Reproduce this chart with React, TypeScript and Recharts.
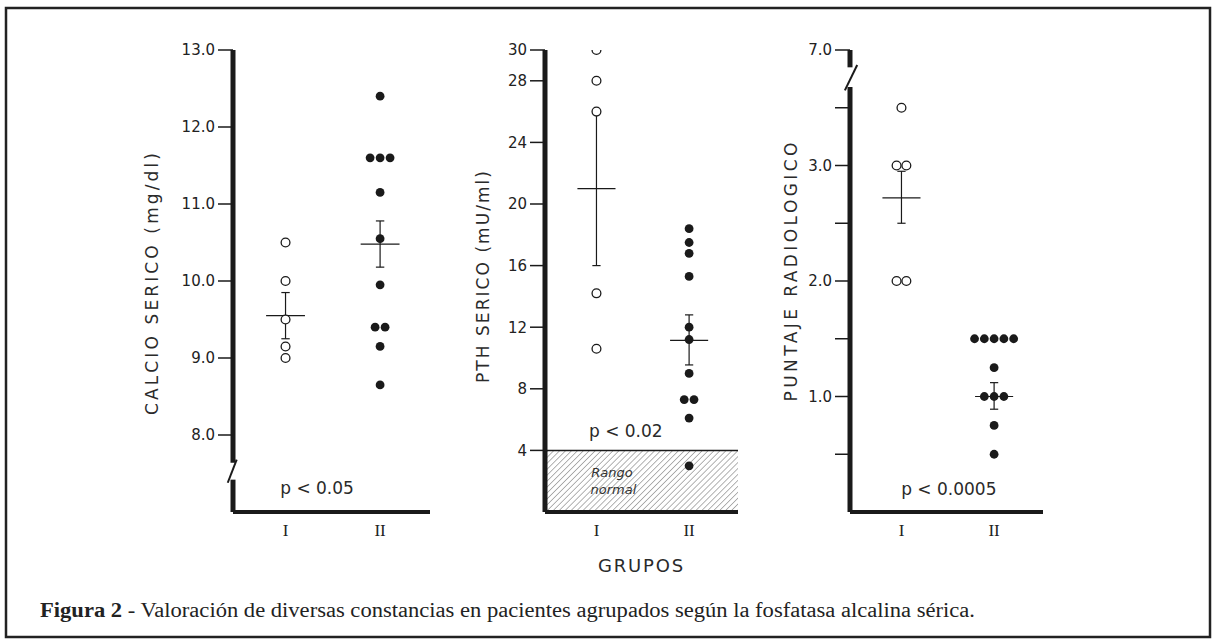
import React from "react";
import {
  ScatterChart,
  Scatter,
  XAxis,
  YAxis,
  ReferenceLine,
  ReferenceDot,
  ReferenceArea,
} from "recharts";

// groups on the x axis
const groupNames = ["I", "II"];
const groupX = [1, 2.8];
const JITTER = 0.19;

// calcio serico (mg/dl)
const calcioI = [10.5, 10.0, 9.5, 9.15, 9.0];
const calcioII = [12.4, 11.6, 11.6, 11.6, 11.15, 10.55, 9.95, 9.4, 9.4, 9.15, 8.65];
const calcioMean = [9.55, 10.48];
const calcioLow = [9.25, 10.18];
const calcioHigh = [9.85, 10.78];
const calcioTicks = [8, 9, 10, 11, 12, 13];

// PTH serico (mU/ml)
const pthI = [30, 28, 26, 14.2, 10.6];
const pthII = [18.4, 17.5, 16.8, 15.3, 12.0, 11.2, 9.0, 7.3, 7.3, 6.1, 3.0];
const pthMean = [21, 11.15];
const pthLow = [16, 9.55];
const pthHigh = [26, 12.8];
const pthTicks = [4, 8, 12, 16, 20, 24, 28, 30];

// puntaje radiologico (top tick is a broken axis marked 7.0)
const radI = [3.5, 3.0, 3.0, 2.0, 2.0];
const radII = [1.5, 1.5, 1.5, 1.5, 1.5, 1.25, 1.0, 1.0, 1.0, 0.75, 0.5];
const radMean = [2.72, 1.0];
const radLow = [2.5, 0.89];
const radHigh = [2.95, 1.12];
const radTicks = [0.5, 1, 1.5, 2, 2.5, 3, 3.5, 4];

const INK = "#1a1a1a";
const SANS = "DejaVu Sans";

// side-by-side placement for repeated values
function spread(values: number[], gx: number) {
  const counts: Record<string, number> = {};
  values.forEach((v) => (counts[v] = (counts[v] || 0) + 1));
  const seen: Record<string, number> = {};
  return values.map((v) => {
    const n = counts[v];
    const i = (seen[v] = (seen[v] ?? -1) + 1);
    return { x: gx + (i - (n - 1) / 2) * JITTER, y: v };
  });
}

const OpenDot = (p: any) => (
  <circle cx={p.cx} cy={p.cy} r={4.4} fill="#fff" stroke={INK} strokeWidth={1.3} />
);
const FullDot = (p: any) => <circle cx={p.cx} cy={p.cy} r={4.4} fill={INK} />;

function meanBars(mean: number[], low: number[], high: number[], key: string) {
  const out: any[] = [];
  groupX.forEach((gx, i) => {
    const lineProps = { stroke: INK, strokeWidth: 1.2, ifOverflow: "visible" as const };
    out.push(
      <ReferenceLine key={`${key}-m${i}`} segment={[{ x: gx - 0.37, y: mean[i] }, { x: gx + 0.37, y: mean[i] }]} {...lineProps} />,
      <ReferenceLine key={`${key}-v${i}`} segment={[{ x: gx, y: low[i] }, { x: gx, y: high[i] }]} {...lineProps} />,
      <ReferenceLine key={`${key}-l${i}`} segment={[{ x: gx - 0.08, y: low[i] }, { x: gx + 0.08, y: low[i] }]} {...lineProps} />,
      <ReferenceLine key={`${key}-h${i}`} segment={[{ x: gx - 0.08, y: high[i] }, { x: gx + 0.08, y: high[i] }]} {...lineProps} />
    );
  });
  return out;
}

function axisSegments(parts: number[][], key: string) {
  return parts.map((p, i) => (
    <ReferenceLine
      key={`${key}-ax${i}`}
      segment={[{ x: 0, y: p[0] }, { x: 0, y: p[1] }]}
      stroke={INK}
      strokeWidth={5}
      ifOverflow="visible"
    />
  ));
}

const titleLabel = (text: string, fromAxis: number, dy: number, len: number) => (props: any) => {
  const vb = props.viewBox || {};
  const cx = vb.x + vb.width - fromAxis;
  const cy = vb.y + vb.height / 2 + dy;
  return (
    <text
      x={cx}
      y={cy}
      transform={`rotate(-90 ${cx} ${cy})`}
      textAnchor="middle"
      dominantBaseline="central"
      fontFamily={SANS}
      fontSize={17}
      textLength={len}
      lengthAdjust="spacing"
      fill="#2a2a2a"
    >
      {text}
    </text>
  );
};

const W = 1216;
const H = 640;
const TOP = 50;
const BOTTOM = 512;
const YW = 100;
const XH = 70;

function Panel(props: any) {
  const { left, right, domain, ticks, fmt, title, titleFrom, titleDy, titleLen, open, full, xLabel, children } = props;
  return (
    <div style={{ position: "absolute", left: 0, top: 0 }}>
      <ScatterChart
        width={W}
        height={H}
        margin={{ top: TOP, bottom: H - BOTTOM - XH, left: left - YW, right: W - right }}
      >
        <defs>
          <pattern id="hatch" patternUnits="userSpaceOnUse" width="4.2" height="4.2" patternTransform="rotate(45)">
            <line x1="0" y1="0" x2="0" y2="4.2" stroke="#555" strokeWidth="0.9" />
          </pattern>
        </defs>
        <XAxis
          type="number"
          dataKey="x"
          domain={[0, 3.75]}
          ticks={groupX}
          interval={0}
          allowDataOverflow
          tickFormatter={(v: number) => groupNames[groupX.indexOf(v)]}
          tickLine={false}
          tickMargin={6}
          axisLine={{ stroke: INK, strokeWidth: 4 }}
          tick={{ fontFamily: "Liberation Serif", fontSize: 17, fill: "#222" }}
          height={XH}
          label={
            xLabel
              ? { value: xLabel, position: "insideBottom", offset: 10, fontFamily: SANS, fontSize: 18, letterSpacing: 1.8, fill: "#2a2a2a" }
              : undefined
          }
        />
        <YAxis
          type="number"
          dataKey="y"
          domain={domain}
          ticks={ticks}
          interval={0}
          allowDataOverflow
          tickFormatter={fmt}
          axisLine={false}
          tickSize={15}
          tickMargin={3}
          tickLine={{ stroke: INK, strokeWidth: 1.5 }}
          tick={{ fontFamily: SANS, fontSize: 15, fill: "#222" }}
          width={YW}
          label={titleLabel(title, titleFrom, titleDy, titleLen)}
        />
        {children}
        <Scatter data={open} shape={OpenDot} isAnimationActive={false} />
        <Scatter data={full} shape={FullDot} isAnimationActive={false} />
      </ScatterChart>
    </div>
  );
}

const pStyle = { fontFamily: SANS, fontSize: 17, fill: "#2a2a2a" };

export default function App() {
  return (
    <div
      style={{
        position: "absolute",
        left: 0,
        top: 0,
        width: W,
        height: H,
        background: "#fff",
        overflow: "hidden",
      }}
    >
      <Panel
        left={233}
        right={430}
        domain={[7, 13]}
        ticks={calcioTicks}
        fmt={(v: number) => v.toFixed(1)}
        title="CALCIO SERICO (mg/dl)"
        titleFrom={81}
        titleDy={3}
        titleLen={262}
        open={spread(calcioI, groupX[0])}
        full={spread(calcioII, groupX[1])}
      >
        {axisSegments([[7, 7.42], [7.64, 13]], "c")}
        <ReferenceLine segment={[{ x: -0.1, y: 7.38 }, { x: 0.07, y: 7.68 }]} stroke={INK} strokeWidth={2} ifOverflow="visible" />
        {meanBars(calcioMean, calcioLow, calcioHigh, "c")}
        <ReferenceDot x={1.6} y={7.31} r={0} ifOverflow="visible" label={{ value: "p < 0.05", position: "center", ...pStyle }} />
      </Panel>

      <Panel
        left={545}
        right={738}
        domain={[0, 30]}
        ticks={pthTicks}
        fmt={(v: number) => String(v)}
        title="PTH SERICO (mU/ml)"
        titleFrom={62}
        titleDy={-4}
        titleLen={212}
        open={spread(pthI, groupX[0])}
        full={spread(pthII, groupX[1])}
        xLabel="GRUPOS"
      >
        <ReferenceArea x1={0} x2={3.75} y1={0} y2={4} fill="url(#hatch)" fillOpacity={1} stroke="none" />
        <ReferenceLine segment={[{ x: 0, y: 4 }, { x: 3.75, y: 4 }]} stroke={INK} strokeWidth={1.5} />
        {axisSegments([[0, 30]], "p")}
        {meanBars(pthMean, pthLow, pthHigh, "p")}
        <ReferenceDot x={1.57} y={5.25} r={0} ifOverflow="visible" label={{ value: "p < 0.02", position: "center", ...pStyle }} />
        <ReferenceDot x={1.3} y={2.6} r={0} ifOverflow="visible" label={{ value: "Rango", position: "center", fontFamily: SANS, fontSize: 13, fontStyle: "italic", fill: "#333" }} />
        <ReferenceDot x={1.33} y={1.5} r={0} ifOverflow="visible" label={{ value: "normal", position: "center", fontFamily: SANS, fontSize: 13, fontStyle: "italic", fill: "#333" }} />
      </Panel>

      <Panel
        left={850}
        right={1043}
        domain={[0, 4]}
        ticks={radTicks}
        fmt={(v: number) => (v === 4 ? "7.0" : Number.isInteger(v) ? v.toFixed(1) : "")}
        title="PUNTAJE RADIOLOGICO"
        titleFrom={59}
        titleDy={-9}
        titleLen={259}
        open={spread(radI, groupX[0])}
        full={spread(radII, groupX[1])}
      >
        {axisSegments([[0, 3.68], [3.85, 4]], "r")}
        <ReferenceLine segment={[{ x: -0.1, y: 3.65 }, { x: 0.14, y: 3.87 }]} stroke={INK} strokeWidth={2} ifOverflow="visible" />
        {meanBars(radMean, radLow, radHigh, "r")}
        <ReferenceDot x={1.92} y={0.2} r={0} ifOverflow="visible" label={{ value: "p < 0.0005", position: "center", ...pStyle }} />
      </Panel>

      <svg width={W} height={H} style={{ position: "absolute", left: 0, top: 0, pointerEvents: "none" }}>
        <rect x={6} y={8} width={1204} height={629} fill="none" stroke="#222" strokeWidth={2.5} />
        <text
          x={40}
          y={617}
          textLength={935}
          lengthAdjust="spacingAndGlyphs"
          fontFamily="Liberation Serif"
          fontSize={20}
          fill="#222"
        >
          <tspan fontWeight="bold">Figura 2</tspan> - Valoración de diversas constancias en pacientes agrupados según la fosfatasa alcalina sérica.
        </text>
      </svg>
    </div>
  );
}
